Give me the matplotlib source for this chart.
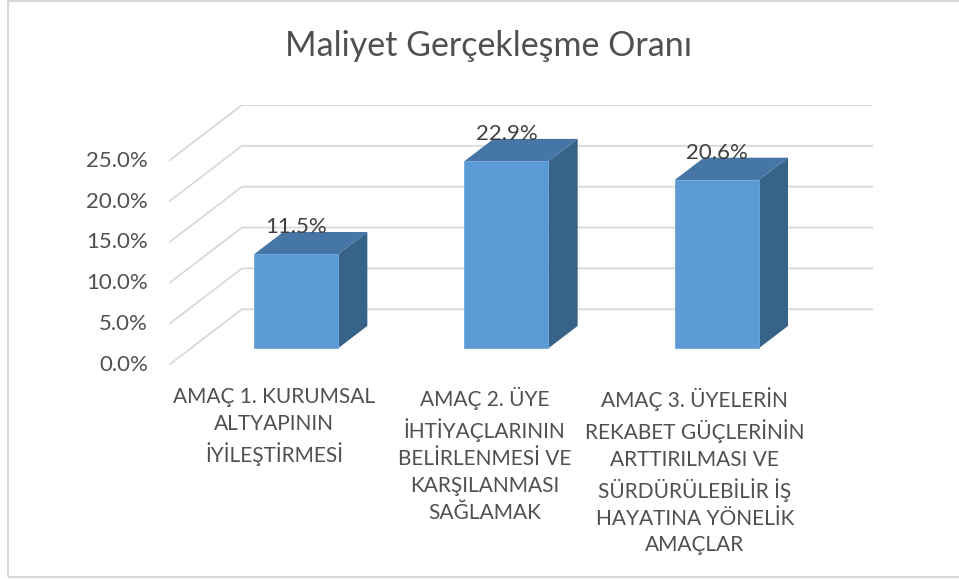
import matplotlib.pyplot as plt
from matplotlib.patches import Polygon, Rectangle

plt.rcParams['font.family'] = ['Lato', 'DejaVu Sans']

# data
categories = ['AMAÇ 1. KURUMSAL\nALTYAPININ\nİYİLEŞTİRMESİ',
              'AMAÇ 2. ÜYE\nİHTİYAÇLARININ\nBELİRLENMESİ VE\nKARŞILANMASI\nSAĞLAMAK',
              'AMAÇ 3. ÜYELERİN\nREKABET GÜÇLERİNİN\nARTTIRILMASI VE\nSÜRDÜRÜLEBİLİR İŞ\nHAYATINA YÖNELİK\nAMAÇLAR']
values = [11.5, 22.9, 20.6]
labels = ['11.5%', '22.9%', '20.6%']
ticks = [0, 5, 10, 15, 20, 25]
tick_labels = ['0.0%', '5.0%', '10.0%', '15.0%', '20.0%', '25.0%']

# fake 3d: depth offset of the floor (x in category units, y in %)
DX, DY = 0.347, 6.83
D0, D1 = 0.3, 0.7      # bar front/back position in depth
W = 0.4                # bar width

W_PX, H_PX = 959, 579
fig = plt.figure(figsize=(W_PX / 100, H_PX / 100), dpi=100)
ax = fig.add_axes([169 / W_PX, 1 - 365 / H_PX, (873 - 169) / W_PX, (365 - 105) / H_PX])
ax.set_xlim(-0.5, 2.5 + DX)
ax.set_ylim(0, 25 + DY)
ax.axis('off')

grid_c = '#d9d9d9'
for t in ticks:
    ax.plot([-0.5, -0.5 + DX, 2.5 + DX], [t, t + DY, t + DY], color=grid_c, lw=1.3,
            solid_capstyle='butt', zorder=1)

front_c, top_c, side_c = '#5b9bd5', '#4576a5', '#386389'
for i, v in enumerate(values):
    xl = i - W / 2 + D0 * DX
    xr = i + W / 2 + D0 * DX
    yb = D0 * DY
    dx, dy = (D1 - D0) * DX, (D1 - D0) * DY
    ax.add_patch(Polygon([(xr, yb), (xr + dx, yb + dy), (xr + dx, yb + dy + v), (xr, yb + v)],
                         closed=True, fc=side_c, ec='none', zorder=3))
    ax.add_patch(Polygon([(xl, yb + v), (xr, yb + v), (xr + dx, yb + v + dy), (xl + dx, yb + v + dy)],
                         closed=True, fc=top_c, ec='none', zorder=3))
    ax.add_patch(Rectangle((xl, yb), xr - xl, v, fc=front_c, ec='#6fa6d9', lw=0.6, zorder=4))
    ax.text(i + D0 * DX, yb + v + dy + 0.6, labels[i], ha='center', va='center',
            fontsize=16, color='#404040', zorder=5)

# y tick labels on the front plane
for t, s in zip(ticks, tick_labels):
    ax.text(-0.5 - 0.1, t, s, ha='right', va='center', fontsize=16, color='#505050')

# category labels
for i, c in enumerate(categories):
    ax.text(i, -2.7, c, ha='center', va='top', fontsize=15, color='#505050',
            linespacing=1.42)

fig.text(488 / W_PX, 1 - 46 / H_PX, 'Maliyet Gerçekleşme Oranı', ha='center', va='center',
         fontsize=24.5, color='#505050')

# chart border
fig.patches.append(Rectangle((8 / W_PX, 2 / H_PX), 1.0, 1 - 3 / H_PX, transform=fig.transFigure,
                             fill=False, ec='#d9d9d9', lw=1.5))

fig.savefig('out.png', dpi=100)
